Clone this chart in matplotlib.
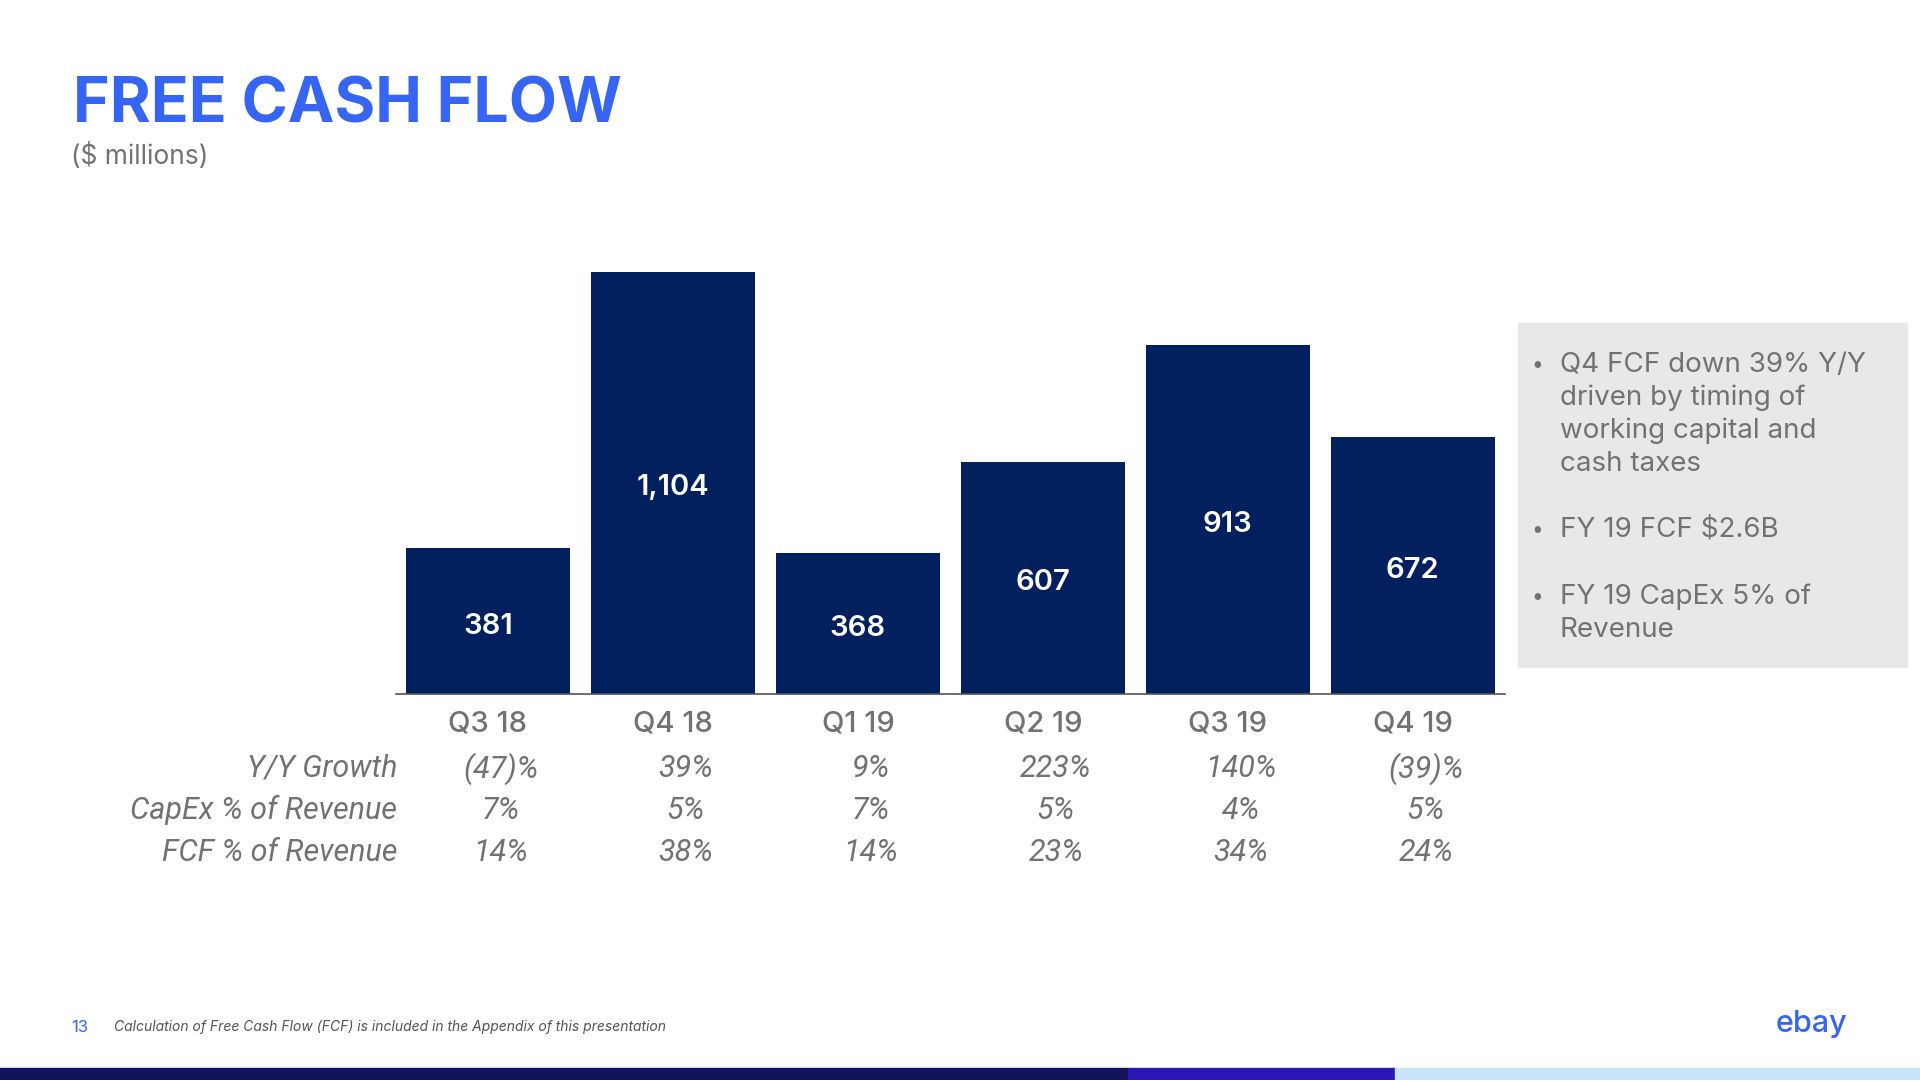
import matplotlib.pyplot as plt
from matplotlib.patches import Rectangle
import matplotlib.transforms as mtransforms

plt.rcParams['font.family'] = ['Inter', 'DejaVu Sans']

quarters = ['Q3 18', 'Q4 18', 'Q1 19', 'Q2 19', 'Q3 19', 'Q4 19']
fcf = [381, 1104, 368, 607, 913, 672]
yy_growth = ['(47)%', '39%', '9%', '223%', '140%', '(39)%']
capex_pct = ['7%', '5%', '7%', '5%', '4%', '5%']
fcf_pct = ['14%', '38%', '14%', '23%', '34%', '24%']
row_labels = ['Y/Y Growth', 'CapEx % of Revenue', 'FCF % of Revenue']
bullets = ['Q4 FCF down 39% Y/Y\ndriven by timing of\nworking capital and\ncash taxes',
           'FY 19 FCF $2.6B',
           'FY 19 CapEx 5% of\nRevenue']

navy = '#021f5e'
blue = '#3665f3'
grey = '#727272'

fig = plt.figure(figsize=(19.2, 10.8), dpi=100)
ax = fig.add_axes([0.206, 0.3574, 0.578, 0.4248])

x = range(len(quarters))
bars = ax.bar(x, fcf, width=0.886, color=navy)
anns = ax.bar_label(bars, labels=[f'{v:,}' for v in fcf], label_type='center',
                    color='white', fontsize=21, fontweight='semibold')
for a in anns:
    a.xyann = (0, -3.5)
ax.set_xlim(-0.5, 5.5)
ax.set_ylim(0, 1200)
for s in ['top', 'right', 'left']:
    ax.spines[s].set_visible(False)
ax.spines['bottom'].set_color('#555555')
ax.spines['bottom'].set_linewidth(1.2)
ax.set_xticks([])
ax.set_yticks([])

# table under the bars
tr = mtransforms.blended_transform_factory(ax.transData, fig.transFigure)
for i, q in enumerate(quarters):
    ax.text(i, 0.3297, q, transform=tr, ha='center', va='center',
            fontsize=21, fontweight='medium', color=grey)
rows_y = [0.2885, 0.2497, 0.2110]
for vals, yy in zip([yy_growth, capex_pct, fcf_pct], rows_y):
    for i, v in enumerate(vals):
        ax.text(i + 0.07, yy, v, transform=tr, ha='center', va='center',
                fontsize=22, style='italic', color=grey, family='Roboto')
for lab, yy in zip(row_labels, rows_y):
    fig.text(0.2068, yy, lab, ha='right', va='center', fontsize=22,
             style='italic', color=grey, family='Roboto')

# title
fig.text(0.038, 0.8867, 'FREE CASH FLOW', fontsize=45, fontweight='bold',
         color=blue, va='baseline', ha='left')
fig.text(0.037, 0.855, '($ millions)', fontsize=19, color=grey, va='center')

# side box
fig.patches.append(Rectangle((0.7906, 1 - 667 / 1080), 0.2026, 344 / 1080,
                             transform=fig.transFigure, color='#e8e8e8', zorder=0))
bullet_y = [1 - 365 / 1080, 1 - 530 / 1080, 1 - 597 / 1080]
for b, yy in zip(bullets, bullet_y):
    fig.text(0.7975, yy, '\u2022', fontsize=15, color=grey, va='center')
    fig.text(0.8125, yy + 0.0125, b, fontsize=20, color=grey, va='top',
             linespacing=1.33)

# footer
fig.text(0.037, 1 - 1027 / 1080, '13', fontsize=12, color=blue, va='center')
fig.text(0.0595, 1 - 1027 / 1080,
         'Calculation of Free Cash Flow (FCF) is included in the Appendix of this presentation',
         fontsize=10, style='italic', color='#555555', va='center')
fig.text(0.962, 1 - 1024 / 1080, 'ebay', fontsize=22, color=blue, ha='right',
         va='center', fontweight='medium')

# bottom stripe
for x0, w, c in [(0, 1128, '#12135a'), (1128, 267, '#2b16b6'), (1395, 525, '#c6e3f7')]:
    fig.patches.append(Rectangle((x0 / 1920, 0), w / 1920, 12 / 1080,
                                 transform=fig.transFigure, color=c))

fig.savefig('out.png', dpi=100)
